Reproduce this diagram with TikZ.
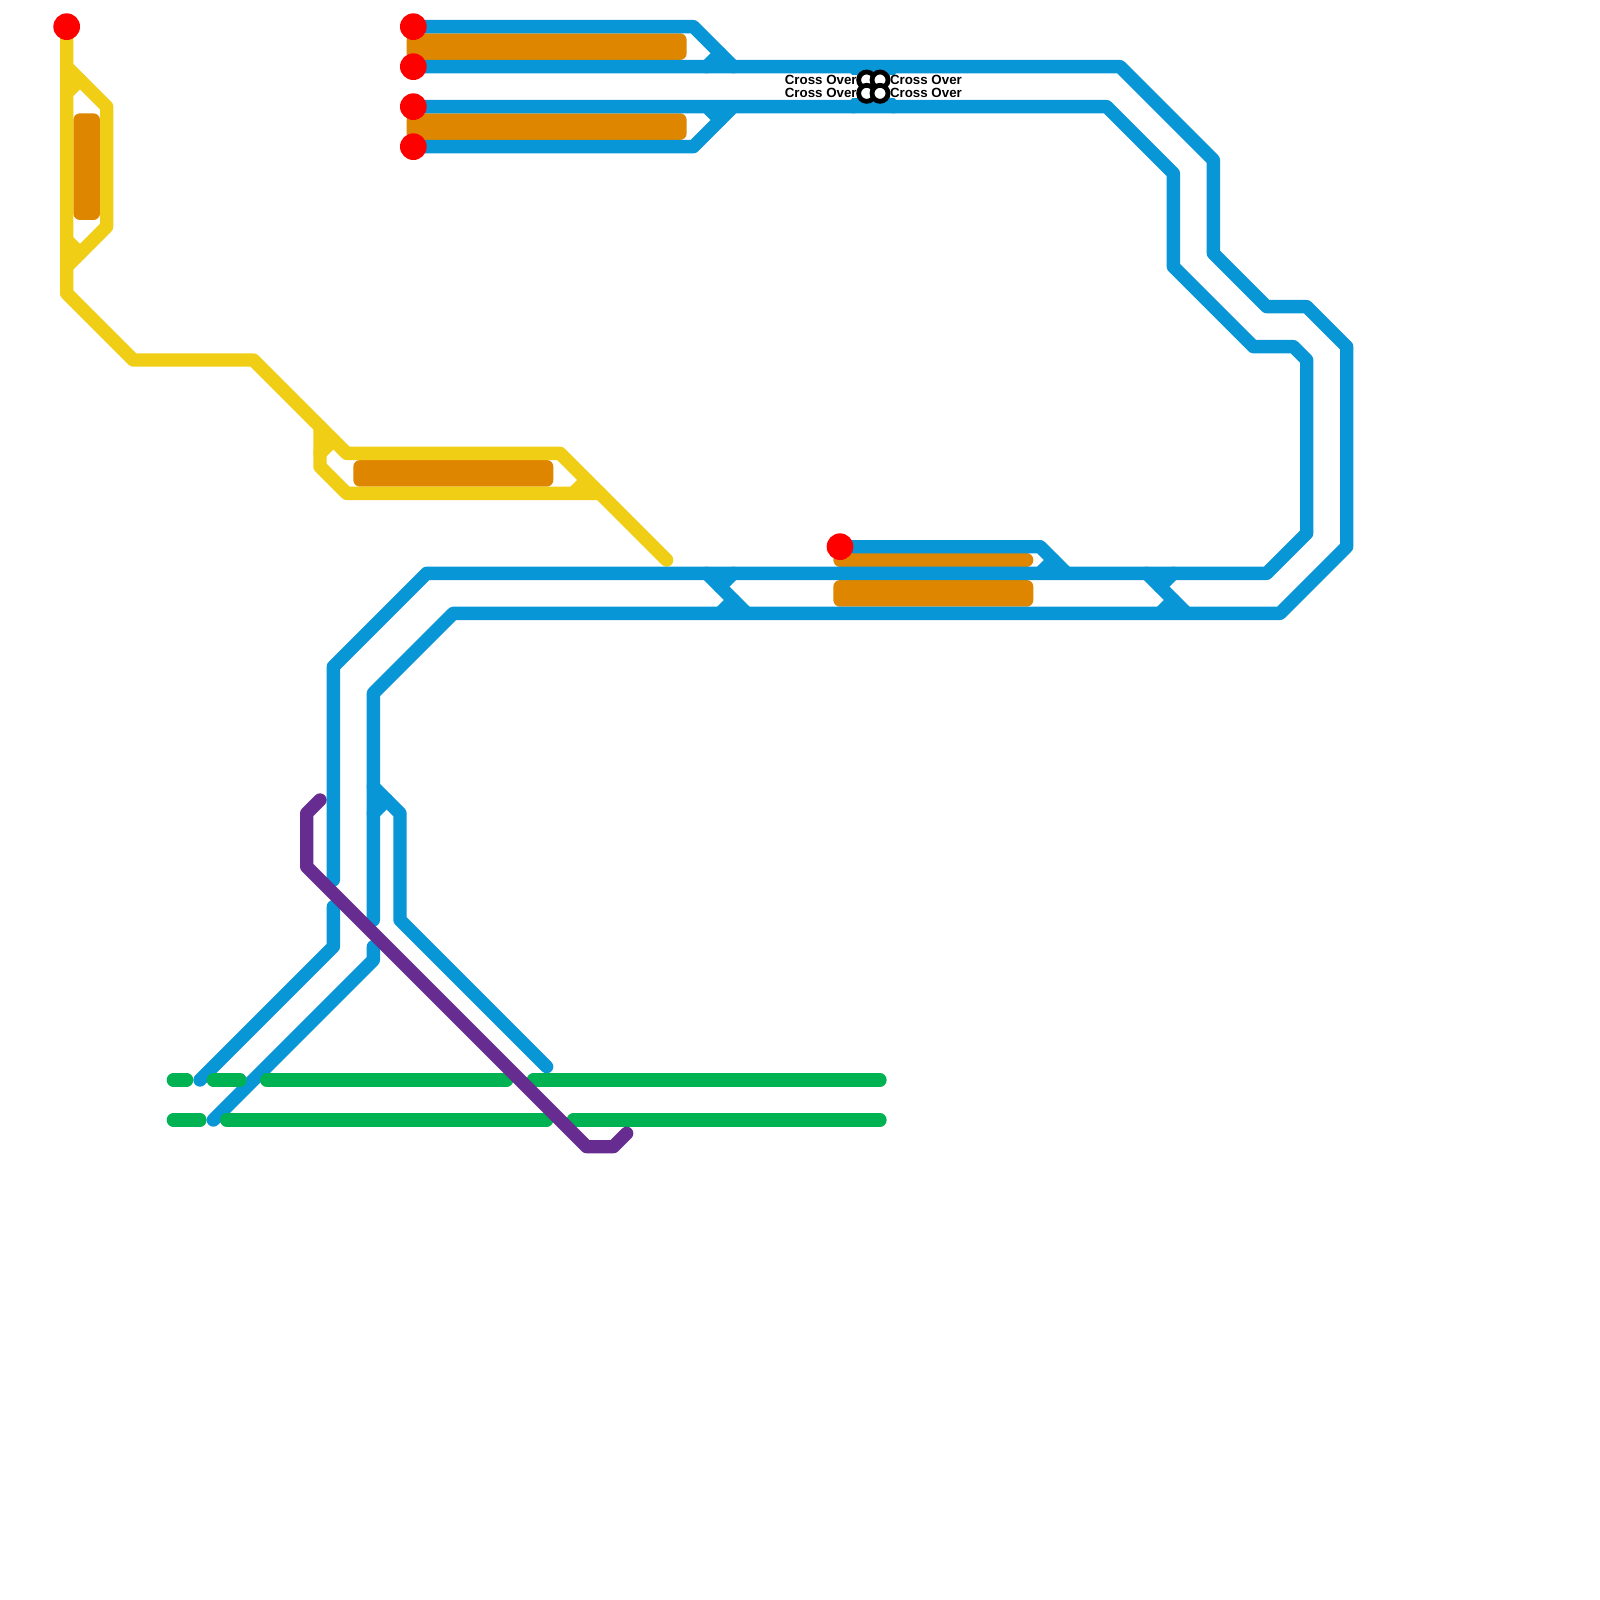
\documentclass[tikz,border=0pt]{standalone}
\usepackage{fontspec}
\setmainfont{Liberation Sans}
\definecolor{myyellow}{HTML}{F0CE15}
\definecolor{myorange}{HTML}{DF8600}
\definecolor{myblue}{HTML}{0896D7}
\definecolor{mygreen}{HTML}{00B251}
\definecolor{mypurple}{HTML}{662C90}
\tikzset{
  track/.style={line width=1.3333mm,line cap=round,line join=round},
  yellowline/.style={track,myyellow},
  orangeline/.style={track,myorange},
  platform/.style={fill=myorange,rounded corners=.6667mm},
  blueline/.style={track,myblue},
  greenline/.style={track,mygreen},
  purpleline/.style={track,mypurple},
  station/.style={circle,fill=red,draw=none,minimum size=2.6667mm,inner sep=0pt},
  crossring/.style={circle,fill=white,draw=black,line width=.48mm,minimum size=1.6mm,inner sep=0pt},
  xlabel/.style={font=\fontsize{3.79pt}{4pt}\selectfont\bfseries,text=black,inner sep=0pt},
}
\begin{document}
\begin{tikzpicture}[x=1.33333mm,y=-1.33333mm]
\useasboundingbox (0,0) rectangle (120,120);
\fill[white] (0,0) rectangle (120,120);
% named line ends
\coordinate (sY) at (5,2);
\coordinate (sA) at (31,2);
\coordinate (sB) at (31,5);
\coordinate (sC) at (31,8);
\coordinate (sD) at (31,11);
\coordinate (sE) at (63,41);
% platforms
\fill[platform] (30.5,2.5) rectangle (51.5,4.5);
\fill[platform] (30.5,8.5) rectangle (51.5,10.5);
\fill[platform] (62.5,43.5) rectangle (77.5,45.5);
\draw[orangeline] (63,42) -- (77,42);
\fill[platform] (26.5,34.5) rectangle (41.5,36.5);
\fill[platform] (5.5,8.5) rectangle (7.5,16.5);
% yellow
\draw[yellowline] (sY) -- (5,22) -- (10,27) -- (19,27) -- (26,34) -- (42,34) -- (50,42);
\draw[yellowline] (5,5) -- (8,8) -- (8,17) -- (5,20);
\draw[yellowline] (5,7) -- (6,6);
\draw[yellowline] (5,18) -- (6,19);
\draw[yellowline] (24,32) -- (24,35) -- (26,37) -- (45,37);
\draw[yellowline] (24,34) -- (25,33);
\draw[yellowline] (43,37) -- (44,36);
% blue
\draw[blueline] (sA) -- (52,2) -- (55,5);
\draw[blueline] (53,5) -- (54,4);
\draw[blueline] (sD) -- (52,11) -- (55,8);
\draw[blueline] (53,8) -- (54,9);
\draw[blueline] (sB) -- (84,5) -- (91,12) -- (91,19) -- (95,23) -- (98,23) -- (101,26) -- (101,41) -- (96,46) -- (34,46) -- (28,52) -- (28,69);
\draw[blueline] (28,71) -- (28,72) -- (16,84);
\draw[blueline] (sC) -- (83,8) -- (88,13) -- (88,20) -- (94,26) -- (97,26) -- (98,27) -- (98,40) -- (95,43) -- (32,43) -- (25,50) -- (25,66);
\draw[blueline] (25,68) -- (25,71) -- (15,81);
\draw[blueline] (28,59) -- (30,61) -- (30,69) -- (41,80);
\draw[blueline] (28,61) -- (29,60);
\draw[blueline] (53,43) -- (56,46);
\draw[blueline] (54,44) -- (55,43);
\draw[blueline] (54,46) -- (55,45);
\draw[blueline] (86,43) -- (89,46);
\draw[blueline] (87,44) -- (88,43);
\draw[blueline] (87,46) -- (88,45);
\draw[blueline] (sE) -- (78,41) -- (80,43);
\draw[blueline] (78,43) -- (79,42);
\draw[blueline] (64,5) -- (67,8);
\draw[blueline] (64,8) -- (67,5);
% green
\draw[greenline] (13,81) -- (14,81);
\draw[greenline] (16,81) -- (18,81);
\draw[greenline] (20,81) -- (38,81);
\draw[greenline] (40,81) -- (66,81);
\draw[greenline] (13,84) -- (15,84);
\draw[greenline] (17,84) -- (41,84);
\draw[greenline] (43,84) -- (66,84);
% purple
\draw[purpleline] (24,60) -- (23,61) -- (23,65) -- (44,86) -- (46,86) -- (47,85);
% stations
\foreach \nm in {sY,sA,sB,sC,sD,sE}{\node[station] (st\nm) at (\nm) {};}
% cross overs
\node[xlabel,anchor=east,fill=white] (la) at (64.3,6) {Cross Over};
\node[xlabel,anchor=east,fill=white] (lb) at (64.3,7) {Cross Over};
\node[xlabel,anchor=west,fill=white] (lc) at (66.7,6) {Cross Over};
\node[xlabel,anchor=west,fill=white] (ld) at (66.7,7) {Cross Over};
\node[crossring] (ra) at (65,6) {};
\node[crossring] (rb) at (66,6) {};
\node[crossring] (rc) at (65,7) {};
\node[crossring] (rd) at (66,7) {};
\end{tikzpicture}
\end{document}
